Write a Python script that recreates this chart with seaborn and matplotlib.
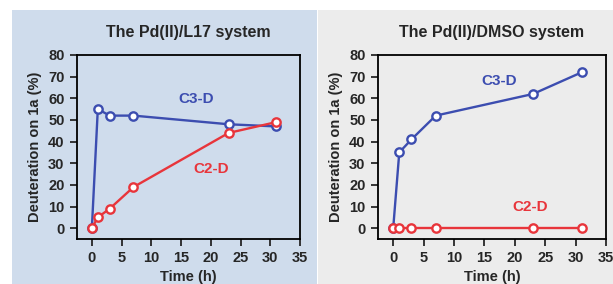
import matplotlib
matplotlib.use("Agg")
import matplotlib.pyplot as plt
import seaborn as sns
import pandas as pd
from matplotlib.patches import Rectangle

time_h = [0, 1, 3, 7, 23, 31]
l17_c3d = [0, 55, 52, 52, 48, 47]
l17_c2d = [0, 5, 9, 19, 44, 49]
dmso_c3d = [0, 35, 41, 52, 62, 72]
dmso_c2d = [0, 0, 0, 0, 0, 0]
titles = ["The Pd(II)/L17 system", "The Pd(II)/DMSO system"]
x_ticks = [0, 5, 10, 15, 20, 25, 30, 35]
y_ticks = [0, 10, 20, 30, 40, 50, 60, 70, 80]

sns.set_style("ticks")
plt.rcParams['font.family'] = ['Liberation Sans', 'DejaVu Sans']
plt.rcParams['font.weight'] = 'bold'

W, H = 613, 284
fig = plt.figure(figsize=(W/100, H/100), dpi=100)
fig.patch.set_facecolor("white")

def fx(px): return px / W
def fy(py): return 1 - py / H

# panel backgrounds
fig.patches.append(Rectangle((fx(12), 0), fx(317) - fx(12), fy(10), transform=fig.transFigure,
                             facecolor="#cfdcec", edgecolor="none", zorder=-10))
fig.patches.append(Rectangle((fx(318), 0), 1 - fx(318), fy(10), transform=fig.transFigure,
                             facecolor="#ececec", edgecolor="none", zorder=-10))

blue = "#3c4db0"
red = "#e8353b"

panels = [
    dict(box=(77, 55, 300, 239), c3=l17_c3d, c2=l17_c2d, c3pos=(17.5, 59.5), c2pos=(20, 27.5)),
    dict(box=(378, 55, 606, 239), c3=dmso_c3d, c2=dmso_c2d, c3pos=(17.5, 68), c2pos=(22.5, 10)),
]

for i, p in enumerate(panels):
    x0, y0, x1, y1 = p["box"]
    ax = fig.add_axes([fx(x0), fy(y1), fx(x1) - fx(x0), fy(y0) - fy(y1)])
    ax.set_zorder(5)
    ax.set_facecolor("none")
    df = pd.DataFrame({"t": time_h * 2,
                       "v": list(p["c3"]) + list(p["c2"]),
                       "s": ["C3-D"] * 6 + ["C2-D"] * 6})
    sns.lineplot(data=df, x="t", y="v", hue="s", palette={"C3-D": blue, "C2-D": red},
                 marker="o", markersize=6, markerfacecolor="white", markeredgewidth=1.7,
                 linewidth=1.7, legend=False, ax=ax, sort=False)
    for line in ax.lines:
        line.set_markeredgecolor(line.get_color())
    ax.set_xlim(-2.5, 35)
    ax.set_ylim(-5, 80)
    ax.set_xticks(x_ticks)
    ax.set_yticks(y_ticks)
    ax.tick_params(direction="out", length=5, width=1.3, labelsize=10.5, pad=4)
    for lab in ax.get_xticklabels() + ax.get_yticklabels():
        lab.set_fontweight("bold")
    for sp in ax.spines.values():
        sp.set_visible(True)
        sp.set_linewidth(1.3)
        sp.set_color("black")
    ax.tick_params(top=False, right=False)
    ax.set_xlabel("Time (h)", fontsize=10.5, fontweight="bold", labelpad=3)
    ax.set_ylabel("Deuteration on 1a (%)", fontsize=10.5, fontweight="bold", labelpad=4)
    ax.set_title(titles[i], fontsize=11.5, fontweight="bold", pad=13)
    ax.text(*p["c3pos"], "C3-D", color=blue, fontsize=11, fontweight="bold", ha="center", va="center")
    ax.text(*p["c2pos"], "C2-D", color=red, fontsize=11, fontweight="bold", ha="center", va="center")

fig.savefig("out.png", dpi=100, facecolor=fig.get_facecolor())
